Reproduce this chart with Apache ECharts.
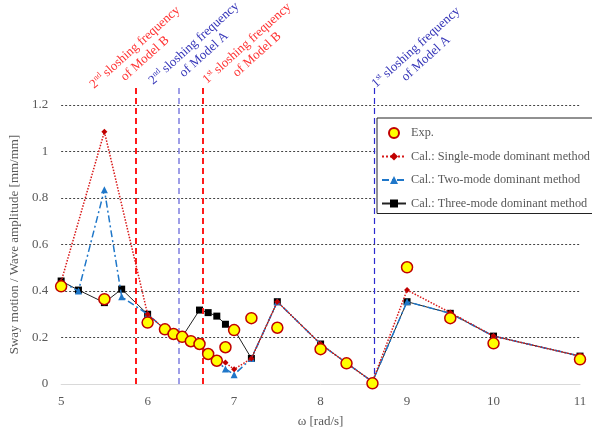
<!DOCTYPE html>
<html>
<head>
<meta charset="utf-8">
<script src="https://cdn.jsdelivr.net/npm/echarts@6/dist/echarts.min.js"></script>
<style>
  html, body { margin: 0; padding: 0; background: #fff; }
  #chart { width: 592px; height: 435px; }
</style>
</head>
<body>
<div id="chart"></div>
<script>
  // 实验值
  const expX = [5, 5.5, 6, 6.2, 6.3, 6.4, 6.5, 6.6, 6.7, 6.8, 6.9, 7.0, 7.2, 7.5, 8, 8.3, 8.6, 9, 9.5, 10, 11];
  const expY = [0.42, 0.365, 0.264, 0.235, 0.215, 0.203, 0.184, 0.172, 0.129, 0.10, 0.158, 0.232, 0.283, 0.242, 0.15, 0.089, 0.003, 0.502, 0.283, 0.175, 0.106];

  // Single-mode
  const singleX = [5, 5.5, 6, 6.2, 6.3, 6.4, 6.5, 6.6, 6.7, 6.8, 6.9, 7.0, 7.2, 7.5, 8, 8.3, 8.6, 9, 9.5, 10, 11];
  const singleY = [0.44, 1.085, 0.30, 0.235, 0.215, 0.203, 0.184, 0.17, 0.13, 0.10, 0.092, 0.063, 0.11, 0.354, 0.172, 0.09, 0.01, 0.404, 0.307, 0.206, 0.12];

  // Two-mode
  const twoX = [5, 5.2, 5.5, 5.7, 6, 6.2, 6.3, 6.4, 6.5, 6.6, 6.7, 6.8, 6.9, 7.0, 7.2, 7.5, 8, 8.3, 8.6, 9, 9.5, 10, 11];
  const twoY = [0.44, 0.40, 0.835, 0.375, 0.30, 0.235, 0.215, 0.203, 0.184, 0.17, 0.13, 0.10, 0.065, 0.04, 0.11, 0.354, 0.172, 0.09, 0.01, 0.354, 0.304, 0.206, 0.12];

  // Three-mode
  const threeX = [5, 5.2, 5.5, 5.7, 6, 6.2, 6.3, 6.4, 6.6, 6.7, 6.8, 6.9, 7.0, 7.2, 7.5, 8, 8.3, 8.6, 9, 9.5, 10, 11];
  const threeY = [0.443, 0.404, 0.35, 0.408, 0.30, 0.235, 0.215, 0.203, 0.318, 0.307, 0.292, 0.257, 0.235, 0.11, 0.354, 0.172, 0.09, 0.01, 0.354, 0.304, 0.206, 0.12];

  // 晃荡频率 (竖线)
  const freqB2 = 5.86;
  const freqA2 = 6.36;
  const freqB1 = 6.64;
  const freqA1 = 8.62;

  const seriesNames = ['Exp.', 'Cal.: Single-mode dominant method', 'Cal.: Two-mode dominant method', 'Cal.: Three-mode dominant method'];

  const FONT = '"Liberation Serif", "Times New Roman", serif';
  const pairs = (xs, ys) => xs.map((x, i) => [x, ys[i]]);

  // 竖虚线, 顶部延伸到图区上方
  function vLine(x, color, width) {
    return [
      { coord: [x, 0], lineStyle: { color: color, width: width, type: [6, 4] } },
      { coord: [x, 1.2], y: 88 }
    ];
  }

  // 斜着的说明文字
  function note(x, y, color, num, sup, model) {
    return {
      type: 'text',
      x: x,
      y: y,
      rotation: 42 * Math.PI / 180,
      style: {
        text: '{n|' + num + '}{s|' + sup + '}{n| sloshing frequency}\n{n|of Model ' + model + '}',
        align: 'center',
        verticalAlign: 'middle',
        fill: color,
        font: '13px ' + FONT,
        rich: {
          n: { fontSize: 13, fontFamily: FONT, fill: color, color: color, lineHeight: 15 },
          s: { fontSize: 8, fontFamily: FONT, fill: color, color: color, verticalAlign: 'top', lineHeight: 15 }
        }
      }
    };
  }

  const chart = echarts.init(document.getElementById('chart'));
  chart.setOption({
    animation: false,
    backgroundColor: '#fff',
    grid: { left: 56, right: 12, top: 105, bottom: 51 },
    legend: {
      data: seriesNames,
      orient: 'vertical',
      left: 377,
      top: 118,
      padding: [9, 20, 4, 4],
      itemGap: 11.5,
      itemWidth: 24,
      itemHeight: 10,
      backgroundColor: '#fff',
      borderColor: '#222',
      borderWidth: 1,
      textStyle: { fontFamily: FONT, fontSize: 12.3, color: '#595959' }
    },
    xAxis: {
      type: 'value',
      min: 5,
      max: 11,
      interval: 1,
      name: 'ω [rad/s]',
      nameLocation: 'middle',
      nameGap: 31,
      nameTextStyle: { fontFamily: FONT, fontSize: 13, color: '#595959' },
      axisLine: { show: true, lineStyle: { color: '#d9d9d9', width: 1 } },
      axisTick: { show: false },
      axisLabel: { margin: 11, fontFamily: FONT, fontSize: 13, color: '#595959' },
      splitLine: { show: false }
    },
    yAxis: {
      type: 'value',
      min: 0,
      max: 1.2,
      interval: 0.2,
      name: 'Sway motion / Wave amplitude [mm/mm]',
      nameLocation: 'middle',
      nameGap: 31,
      nameTextStyle: { fontFamily: FONT, fontSize: 13, color: '#595959' },
      axisLine: { show: false },
      axisTick: { show: false },
      axisLabel: { margin: 13, fontFamily: FONT, fontSize: 13, color: '#595959' },
      splitLine: { show: true, showMinLine: false, lineStyle: { color: '#444', width: 1, type: [2, 2] } }
    },
    graphic: [
      note(140, 53, '#ff3333', '2', 'nd', 'B'),
      note(199, 49, '#3535b8', '2', 'nd', 'A'),
      note(252, 49, '#ff3333', '1', 'st', 'B'),
      note(421, 53, '#3535b8', '1', 'st', 'A')
    ],
    series: [
      {
        // 只用来画竖线
        name: 'freq',
        type: 'line',
        data: [],
        markLine: {
          silent: true,
          symbol: ['none', 'none'],
          label: { show: false },
          data: [
            vLine(freqB2, '#ff1a1a', 2),
            vLine(freqA2, '#7f7fe0', 1.5),
            vLine(freqB1, '#ff1a1a', 2),
            vLine(freqA1, '#2a2ad0', 1.2)
          ]
        }
      },
      {
        name: seriesNames[3],
        type: 'line',
        data: pairs(threeX, threeY),
        symbol: 'rect',
        symbolSize: 7,
        itemStyle: { color: '#000' },
        lineStyle: { color: '#222', width: 1 },
        z: 3
      },
      {
        name: seriesNames[2],
        type: 'line',
        data: pairs(twoX, twoY),
        symbol: 'triangle',
        symbolSize: 7,
        itemStyle: { color: '#1f77c9' },
        lineStyle: { color: '#1f77c9', width: 1.5, type: [7, 3, 2, 3] },
        z: 4
      },
      {
        name: seriesNames[1],
        type: 'line',
        data: pairs(singleX, singleY),
        symbol: 'diamond',
        symbolSize: 6,
        itemStyle: { color: '#c00000' },
        lineStyle: { color: '#d81818', width: 1.5, type: 'dotted' },
        z: 5
      },
      {
        name: seriesNames[0],
        type: 'scatter',
        data: pairs(expX, expY),
        symbol: 'circle',
        symbolSize: 11,
        itemStyle: { color: '#ffff00', borderColor: '#c00000', borderWidth: 1.5, opacity: 1 },
        z: 6
      }
    ]
  });

  window.addEventListener('resize', function () {
    chart.resize();
  });
</script>
</body>
</html>
